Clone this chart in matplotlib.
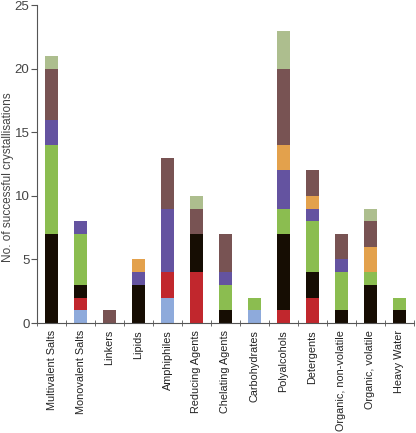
import matplotlib
matplotlib.use('Agg')
from matplotlib import pyplot as plt
import numpy as np

plt.rcParams['font.family'] = ['Liberation Sans', 'DejaVu Sans']

categories = ['Multivalent Salts', 'Monovalent Salts', 'Linkers', 'Lipids', 'Amphiphiles',
              'Reducing Agents', 'Chelating Agents', 'Carbohydrates', 'Polyalcohols',
              'Detergents', 'Organic, non-volatile', 'Organic, volatile', 'Heavy Water']

# stack segments, bottom to top
light_blue = [0, 1, 0, 0, 2, 0, 0, 1, 0, 0, 0, 0, 0]
red        = [0, 1, 0, 0, 2, 4, 0, 0, 1, 2, 0, 0, 0]
black      = [7, 1, 0, 3, 0, 3, 1, 0, 6, 2, 1, 3, 1]
green      = [7, 4, 0, 0, 0, 0, 2, 1, 2, 4, 3, 1, 1]
purple     = [2, 1, 0, 1, 5, 0, 1, 0, 3, 1, 1, 0, 0]
orange     = [0, 0, 0, 1, 0, 0, 0, 0, 2, 1, 0, 2, 0]
brown      = [4, 0, 1, 0, 4, 2, 3, 0, 6, 2, 2, 2, 0]
sage       = [1, 0, 0, 0, 0, 1, 0, 0, 3, 0, 0, 1, 0]

series = [light_blue, red, black, green, purple, orange, brown, sage]
colors = ['#8eaadb', '#c1272d', '#160d03', '#8bbd50', '#6453a0', '#e3a14c', '#785353', '#adbe8e']

fig = plt.figure(figsize=(4.16, 4.33), dpi=100)
ax = fig.add_axes([0.089, 0.254, 0.906, 0.734])

x = np.arange(len(categories))
bottom = np.zeros(len(categories))
for vals, c in zip(series, colors):
    vals = np.array(vals)
    ax.bar(x, vals, width=0.42, bottom=bottom, color=c, linewidth=0)
    bottom += vals

ax.set_xlim(-0.5, len(categories) - 0.5)
ax.set_ylim(0, 25)
ax.set_yticks([0, 5, 10, 15, 20, 25])
ax.set_ylabel('No. of successful crystallisations', fontsize=8.5, color='#444444')
ax.yaxis.set_label_coords(-0.062, 0.46)

ax.set_xticks(x)
ax.set_xticklabels(categories, rotation=90, fontsize=7.8, color='#222222')
ax.tick_params(axis='x', which='major', length=0, pad=5)
ax.set_xticks(np.arange(-0.5, len(categories), 1), minor=True)
ax.tick_params(axis='x', which='minor', length=4, direction='inout', color='#555555')
ax.tick_params(axis='y', length=4, direction='out', labelsize=9.5, colors='#555555',
               labelcolor='#444444', pad=1.5)

for s in ['top', 'right']:
    ax.spines[s].set_visible(False)
for s in ['left', 'bottom']:
    ax.spines[s].set_color('#555555')
    ax.spines[s].set_linewidth(0.8)

plt.savefig('out.png', dpi=100)
